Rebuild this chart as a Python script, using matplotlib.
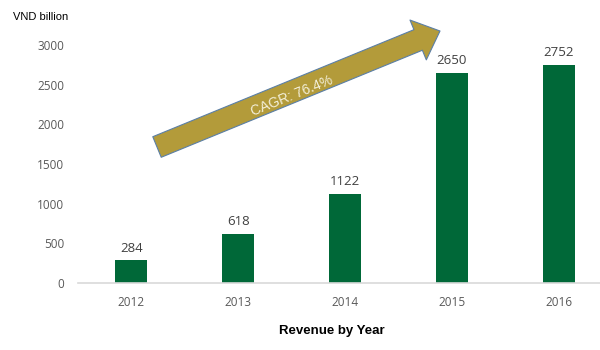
import matplotlib.pyplot as plt
from matplotlib.patches import FancyArrowPatch

# Данные
years = ["2012", "2013", "2014", "2015", "2016"]
revenue = [284, 618, 1122, 2650, 2752]
y_ticks = [0, 500, 1000, 1500, 2000, 2500, 3000]
cagr_text = "CAGR: 76.4%"

W, H = 600, 350
fig = plt.figure(figsize=(6, 3.5), dpi=100)
ax = fig.add_axes([78 / W, 1 - 283 / H, 534 / W, 238 / H])

x = range(len(years))
ax.bar(x, revenue, width=0.3, color="#006838", zorder=2)
for xi, v in zip(x, revenue):
    ax.text(xi, v + 70, str(v), ha="center", va="bottom",
            fontsize=9.5, color="#404040", family="Open Sans")

ax.set_xlim(-0.5, 4.5)
ax.set_ylim(0, 3000)
ax.set_xticks(list(x))
ax.set_xticklabels(years, family="Open Sans", fontsize=8.5, color="#595959")
ax.set_yticks(y_ticks)
ax.set_yticklabels([str(t) for t in y_ticks], family="Open Sans",
                   fontsize=8.5, color="#595959")
ax.tick_params(length=0, pad=10)
ax.tick_params(axis="x", pad=9)
for s in ["top", "right", "left"]:
    ax.spines[s].set_visible(False)
ax.spines["bottom"].set_color("#D9D9D9")
ax.spines["bottom"].set_linewidth(1.2)

# Подписи
fig.text(13 / W, 1 - 17 / H, "VND billion", ha="left", va="center",
         fontsize=8, family="Liberation Sans", color="#000000")
fig.text(332 / W, 1 - 331 / H, "Revenue by Year", ha="center", va="center",
         fontsize=9.5, fontweight="bold", family="Liberation Sans")

# Стрелка CAGR
arrow = FancyArrowPatch((157 / W, 1 - 147 / H), (440 / W, 1 - 31 / H),
                        transform=fig.transFigure,
                        arrowstyle="simple,head_length=17,head_width=31,tail_width=16",
                        mutation_scale=1, shrinkA=0, shrinkB=0,
                        facecolor="#B39B3A", edgecolor="#5B7FA6", linewidth=0.8,
                        clip_on=False)
fig.add_artist(arrow)
fig.text(292 / W, 1 - 96 / H, cagr_text, ha="center", va="center",
         rotation=22, fontsize=10, family="Liberation Sans", color="#F3EFD9",
         rotation_mode="anchor")

plt.savefig("out.png", dpi=100)
